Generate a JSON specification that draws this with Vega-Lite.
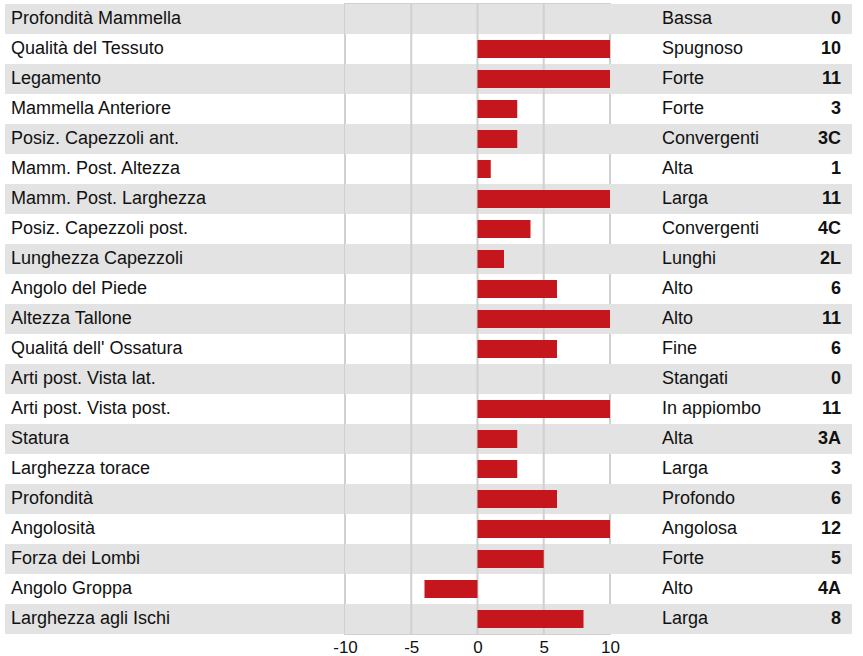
{
  "$schema": "https://vega.github.io/schema/vega-lite/v6.json",
  "padding": {"left": 5, "top": 2, "right": 11, "bottom": 0},
  "autosize": {"type": "pad"},
  "background": "white",
  "bounds": "flush",
  "spacing": 0,
  "config": {
    "view": {"stroke": null},
    "font": "Liberation Sans",
    "text": {"font": "Liberation Sans", "fontSize": 18, "color": "#111111", "baseline": "middle"}
  },
  "datasets": {
    "rows": [
      {"trait": "Profondità Mammella", "desc": "Bassa", "code": "0", "value": 0},
      {"trait": "Qualità del Tessuto", "desc": "Spugnoso", "code": "10", "value": 10},
      {"trait": "Legamento", "desc": "Forte", "code": "11", "value": 11},
      {"trait": "Mammella Anteriore", "desc": "Forte", "code": "3", "value": 3},
      {"trait": "Posiz. Capezzoli ant.", "desc": "Convergenti", "code": "3C", "value": 3},
      {"trait": "Mamm. Post. Altezza", "desc": "Alta", "code": "1", "value": 1},
      {"trait": "Mamm. Post. Larghezza", "desc": "Larga", "code": "11", "value": 11},
      {"trait": "Posiz. Capezzoli post.", "desc": "Convergenti", "code": "4C", "value": 4},
      {"trait": "Lunghezza Capezzoli", "desc": "Lunghi", "code": "2L", "value": 2},
      {"trait": "Angolo del Piede", "desc": "Alto", "code": "6", "value": 6},
      {"trait": "Altezza Tallone", "desc": "Alto", "code": "11", "value": 11},
      {"trait": "Qualitá dell' Ossatura", "desc": "Fine", "code": "6", "value": 6},
      {"trait": "Arti post. Vista lat.", "desc": "Stangati", "code": "0", "value": 0},
      {"trait": "Arti post. Vista post.", "desc": "In appiombo", "code": "11", "value": 11},
      {"trait": "Statura", "desc": "Alta", "code": "3A", "value": 3},
      {"trait": "Larghezza torace", "desc": "Larga", "code": "3", "value": 3},
      {"trait": "Profondità", "desc": "Profondo", "code": "6", "value": 6},
      {"trait": "Angolosità", "desc": "Angolosa", "code": "12", "value": 12},
      {"trait": "Forza dei Lombi", "desc": "Forte", "code": "5", "value": 5},
      {"trait": "Angolo Groppa", "desc": "Alto", "code": "4A", "value": -4},
      {"trait": "Larghezza agli Ischi", "desc": "Larga", "code": "8", "value": 8}
    ],
    "grid": [{"g": -5}, {"g": 0}, {"g": 5}]
  },
  "hconcat": [
    {
      "width": 340,
      "height": 630,
      "data": {"name": "rows"},
      "transform": [{"window": [{"op": "row_number", "as": "idx"}]}],
      "layer": [
        {
          "mark": {"type": "rect", "color": "#e3e3e3"},
          "encoding": {
            "y": {"field": "trait", "type": "nominal", "sort": null, "axis": null, "scale": {"paddingInner": 0, "paddingOuter": 0}},
            "opacity": {"condition": {"test": "datum.idx % 2 == 1", "value": 1}, "value": 0}
          }
        },
        {
          "mark": {"type": "text", "align": "left", "x": 0, "dx": 6},
          "encoding": {
            "y": {"field": "trait", "type": "nominal", "sort": null, "axis": null},
            "text": {"field": "trait"}
          }
        }
      ]
    },
    {
      "width": 265,
      "height": 630,
      "view": {"stroke": "#d0d0d0", "strokeWidth": 2},
      "layer": [
        {
          "data": {"name": "rows"},
          "transform": [{"window": [{"op": "row_number", "as": "idx"}]}],
          "mark": {"type": "rect", "color": "#e3e3e3"},
          "encoding": {
            "y": {"field": "trait", "type": "nominal", "sort": null, "axis": null, "scale": {"paddingInner": 0, "paddingOuter": 0}},
            "opacity": {"condition": {"test": "datum.idx % 2 == 1", "value": 1}, "value": 0}
          }
        },
        {
          "data": {"name": "grid"},
          "mark": {"type": "rule", "color": "#d0d0d0", "strokeWidth": 2},
          "encoding": {
            "x": {"field": "g", "type": "quantitative"}
          }
        },
        {
          "data": {"name": "rows"},
          "mark": {"type": "bar", "color": "#c4161c", "height": {"band": 0.6}},
          "encoding": {
            "y": {"field": "trait", "type": "nominal", "sort": null, "axis": null},
            "x": {
              "field": "value",
              "type": "quantitative",
              "scale": {"domain": [-10, 10], "clamp": true, "nice": false},
              "axis": {
                "title": null,
                "values": [-10, -5, 0, 5, 10],
                "labelExpr": "'' + datum.value",
                "grid": false,
                "ticks": false,
                "domain": false,
                "labelFontSize": 17,
                "labelFont": "Liberation Sans",
                "labelColor": "#111111",
                "labelPadding": 5,
                "labelFlush": false,
                "labelOverlap": false
              }
            },
            "x2": {"datum": 0}
          }
        }
      ]
    },
    {
      "width": 242,
      "height": 630,
      "data": {"name": "rows"},
      "transform": [{"window": [{"op": "row_number", "as": "idx"}]}],
      "layer": [
        {
          "mark": {"type": "rect", "color": "#e3e3e3"},
          "encoding": {
            "y": {"field": "trait", "type": "nominal", "sort": null, "axis": null, "scale": {"paddingInner": 0, "paddingOuter": 0}},
            "opacity": {"condition": {"test": "datum.idx % 2 == 1", "value": 1}, "value": 0}
          }
        },
        {
          "mark": {"type": "text", "align": "left", "x": 0, "dx": 52},
          "encoding": {
            "y": {"field": "trait", "type": "nominal", "sort": null, "axis": null},
            "text": {"field": "desc"}
          }
        },
        {
          "mark": {"type": "text", "align": "right", "x": "width", "dx": -11, "fontWeight": "bold"},
          "encoding": {
            "y": {"field": "trait", "type": "nominal", "sort": null, "axis": null},
            "text": {"field": "code"}
          }
        }
      ]
    }
  ]
}
